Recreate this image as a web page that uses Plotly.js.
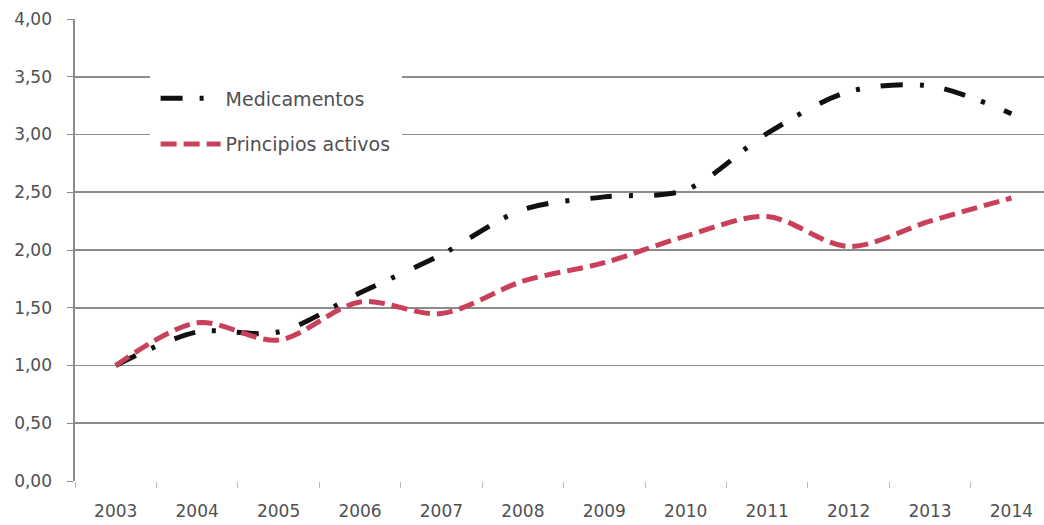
<!DOCTYPE html>
<html><head><meta charset="utf-8">
<script src="https://cdn.plot.ly/plotly-3.0.1.min.js"></script>
<style>html,body{margin:0;padding:0;background:#fff}</style>
</head><body><div id="chart" style="width:1044px;height:525px"></div>
<script>
const years = ['2003','2004','2005','2006','2007','2008','2009','2010','2011','2012','2013','2014'];
const medicamentos = [1.00, 1.29, 1.29, 1.63, 1.96, 2.35, 2.46, 2.52, 3.01, 3.37, 3.42, 3.18];
const principiosActivos = [1.00, 1.37, 1.22, 1.55, 1.45, 1.73, 1.89, 2.12, 2.29, 2.03, 2.25, 2.45];
const yTicks = [0, 0.5, 1, 1.5, 2, 2.5, 3, 3.5, 4];

const fam = 'DejaVu Sans, sans-serif';
const tickFont = {family: fam, size: 17, color: '#505050'};
const traces = [
  {x: years, y: medicamentos, name: 'Medicamentos', legendgroup: 'a', type: 'scatter', mode: 'lines',
   line: {color: '#111111', width: 5, dash: '22px,17px,4px,21px', shape: 'spline', smoothing: 0.9}},
  {x: years, y: principiosActivos, name: 'Principios activos', legendgroup: 'b', type: 'scatter', mode: 'lines',
   line: {color: '#c9405a', width: 5, dash: '16px,7px', shape: 'spline', smoothing: 0.9}}
];
const layout = {
  width: 1044, height: 525,
  margin: {l: 75, r: 0, t: 19, b: 44},
  paper_bgcolor: '#fff', plot_bgcolor: '#fff',
  separators: ',.',
  font: tickFont,
  showlegend: true,
  legend: {x: 0.077, y: 0.882, xanchor: 'left', yanchor: 'top', bgcolor: '#fff',
    font: {family: fam, size: 19, color: '#505050'}, tracegroupgap: 18,
    itemwidth: 60, borderwidth: 6, bordercolor: '#fff'},
  xaxis: {type: 'category', range: [-0.5, 11.4], tickson: 'boundaries', ticks: 'outside',
    ticklen: 6, tickcolor: '#bbb', showgrid: false, showline: false, zeroline: false,
    tickfont: tickFont, ticklabelstandoff: 18, fixedrange: true},
  yaxis: {range: [0, 4], tickvals: yTicks, tickformat: '.2f', ticks: 'outside', ticklen: 6,
    tickcolor: '#888', showgrid: true, gridcolor: '#8c8c8c', gridwidth: 1.6, zeroline: false,
    showline: true, linecolor: '#8c8c8c', linewidth: 1.6, tickfont: tickFont,
    ticklabelstandoff: 12, fixedrange: true}
};
Plotly.newPlot('chart', traces, layout, {staticPlot: true});
</script>
</body></html>
